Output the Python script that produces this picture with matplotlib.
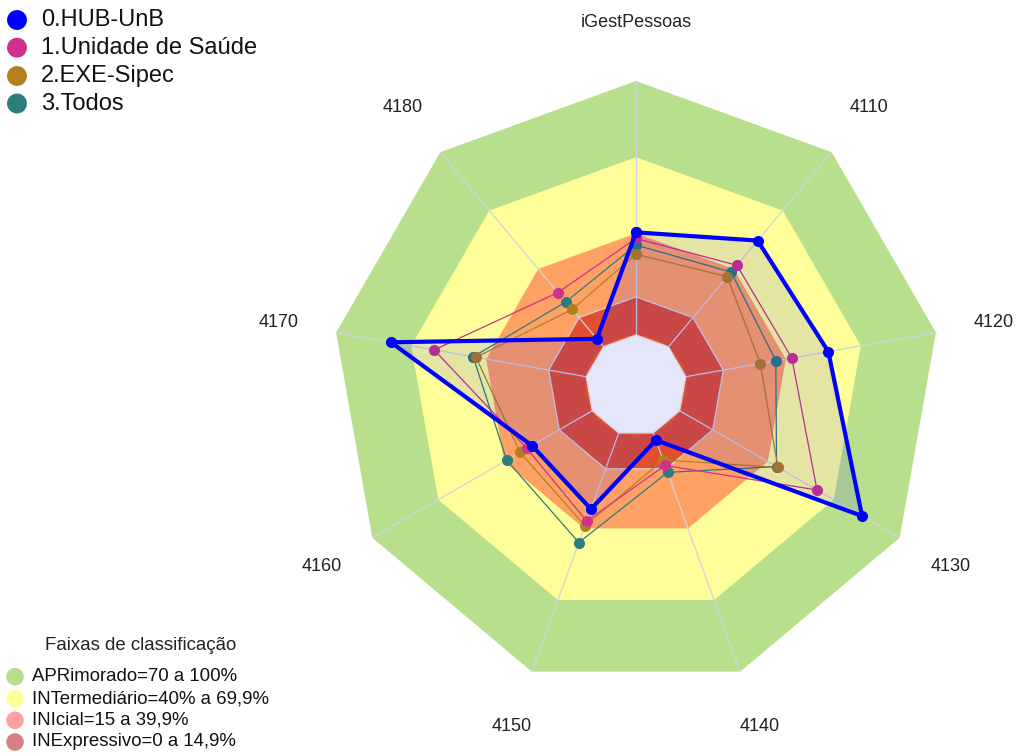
import numpy as np
import matplotlib
matplotlib.use("Agg")
import matplotlib.pyplot as plt

plt.rcParams['font.family'] = ['Liberation Sans', 'DejaVu Sans']

# ---------------- data ----------------
axis_labels = ["iGestPessoas", "4110", "4120", "4130", "4140", "4150", "4160", "4170", "4180"]
series_names = ["0.HUB-UnB", "1.Unidade de Saúde", "2.EXE-Sipec", "3.Todos"]
hub_unb      = [40.4, 54.6, 57.0, 82.9, 3.0, 31.9, 27.4, 78.1, 4.1]
unidade      = [38.0, 41.9, 42.4, 62.4, 13.6, 36.9, 29.7, 60.8, 27.9]
exe_sipec    = [31.8, 36.0, 29.8, 44.6, 11.3, 38.9, 32.8, 44.1, 19.2]
todos        = [35.4, 38.4, 36.0, 44.0, 16.5, 45.9, 38.9, 45.2, 23.1]
series_colors = ["#0000ff", "#cd328c", "#b4801e", "#2d7d7d"]

band_limits = [100, 70, 40, 15]
band_colors = ["#b8e08c", "#ffff99", "#ffa064", "#e0502f"]
band_names = ["APRimorado=70 a 100%", "INTermediário=40% a 69,9%",
              "INIcial=15 a 39,9%", "INExpressivo=0 a 14,9%"]
band_legend_colors = ["#b5df8f", "#ffff9a", "#ff9f9f", "#d88080"]

# ---------------- figure ----------------
W, H = 1018, 756
fig = plt.figure(figsize=(W / 100, H / 100), dpi=100)
cx, cy, R = 636, 385.5, 304.5
ax = fig.add_axes([(cx - R) / W, (H - cy - R) / H, 2 * R / W, 2 * R / H], projection='polar')
ax.set_theta_zero_location('N')
ax.set_theta_direction(-1)
ax.set_ylim(0, 100)
ax.set_rorigin(-19.9)
ax.axis('off')

n = len(axis_labels)
theta = np.linspace(0, 2 * np.pi, n, endpoint=False)
theta_c = np.append(theta, theta[0])

def closed(v):
    return np.append(np.asarray(v, float), v[0])

# bands
for lim, col in zip(band_limits, band_colors):
    ax.fill(theta_c, np.full(n + 1, lim), color=col, lw=0, zorder=1, clip_on=False)
ax.plot(theta_c, np.full(n + 1, 15), color='#d4d4e4', lw=0.9, zorder=2)

# spokes
for t in theta:
    ax.plot([t, t], [0, 100], color='#d2d2e0', lw=0.9, zorder=2)

# other series (drawn in reverse order, beneath HUB)
others = [(todos, series_colors[3]), (exe_sipec, series_colors[2]), (unidade, series_colors[1])]
for vals, col in others:
    ax.plot(theta_c, closed(vals), color=col, lw=0.9, marker='o', ms=8,
            markeredgewidth=0, zorder=3, clip_on=False)

# HUB fill + line
ax.fill(theta_c, closed(hub_unb), color='#0000ff', alpha=0.1, lw=0, zorder=4)
ax.plot(theta_c, closed(hub_unb), color=series_colors[0], lw=3.0, marker='o', ms=8,
        markeredgewidth=0, zorder=5, clip_on=False)

# hole
ax.fill(theta_c, np.zeros(n + 1), color='#e6e6fa', lw=0, zorder=6, clip_on=False)
ax.plot(theta_c, np.zeros(n + 1), color='#d4d4e4', lw=0.9, zorder=6, clip_on=False)

# axis labels
for t, lab in zip(theta, axis_labels):
    ax.text(t, 123, lab, ha='center', va='center', fontsize=13, color='#222222', clip_on=False)

# ---------------- legends ----------------
ov = fig.add_axes([0, 0, 1, 1], zorder=10)
ov.set_xlim(0, W)
ov.set_ylim(H, 0)
ov.axis('off')
ov.patch.set_alpha(0)

top_rows = [20, 47.7, 76, 103.5]
for yy, name, col in zip(top_rows, series_names, series_colors):
    ov.scatter([17], [yy], s=205, color=col, edgecolors='none')
    ov.text(41, yy, name, fontsize=17, va='center', ha='left', color='#111111')

ov.text(45, 646, "Faixas de classificação", fontsize=13.4, va='center', ha='left', color='#222222')
bot_rows = [676.7, 698.5, 720.3, 742]
for yy, name, col in zip(bot_rows, band_names, band_legend_colors):
    ov.scatter([15], [yy], s=160, color=col, edgecolors='none')
    ov.text(32, yy, name, fontsize=13.4, va='center', ha='left', color='#111111')

fig.savefig("out.png", dpi=100)
